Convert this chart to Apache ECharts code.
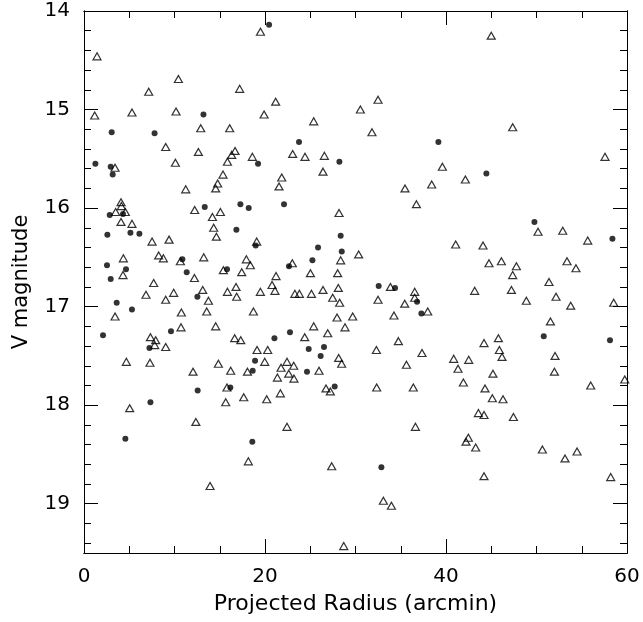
<!DOCTYPE html>
<html>
<head>
<meta charset="utf-8">
<script src="https://cdn.jsdelivr.net/npm/echarts@6/dist/echarts.min.js"></script>
<style>
  html, body { margin: 0; padding: 0; background: #fff; }
  #chart { width: 643px; height: 622px; }
</style>
</head>
<body>
<div id="chart"></div>
<script>
// Stars plotted as open triangles: [projected radius (arcmin), V magnitude]
const triangleStars = [
  [19.5,14.21],[1.44,14.46],[10.43,14.69],[7.15,14.82],[17.2,14.79],[1.18,15.06],[5.3,15.03],
  [10.17,15.02],[19.9,15.05],[12.9,15.19],[16.1,15.19],[9.03,15.38],
  [21.18,14.92],[32.49,14.9],[30.54,15.0],[25.38,15.12],[31.82,15.23],
  [45.0,14.25],[47.37,15.18],
  [12.64,15.43],[16.69,15.42],[16.32,15.46],[18.6,15.48],[3.43,15.59],[10.1,15.54],[15.85,15.53],
  [15.36,15.66],[14.77,15.75],[14.55,15.8],[11.24,15.81],[4.09,15.94],[4.13,15.98],[3.5,16.04],
  [4.57,16.04],[12.23,16.02],[15.07,16.04],[14.19,16.09],[4.09,16.14],[5.3,16.16],[14.33,16.2],
  [14.63,16.29],[7.52,16.34],[9.4,16.32],[19.08,16.34],[8.25,16.48],[8.77,16.51],[4.35,16.51],
  [10.65,16.54],[13.23,16.5],[17.94,16.52],[18.38,16.58],[4.31,16.68],[12.2,16.71],[15.4,16.63],
  [17.43,16.65],[7.7,16.76],
  [23.06,15.45],[24.42,15.48],[26.56,15.47],[26.41,15.63],[21.85,15.69],[21.55,15.78],[39.6,15.58],
  [35.47,15.8],[38.42,15.76],[36.73,15.96],[28.18,16.05],[30.35,16.47],[28.36,16.53],[23.02,16.56],
  [21.22,16.69],[25.02,16.66],[28.03,16.66],
  [57.57,15.48],[42.14,15.71],[50.17,16.24],[52.9,16.23],[55.66,16.33],[41.07,16.37],[44.09,16.38],
  [44.75,16.56],[46.12,16.54],[47.78,16.59],[53.37,16.54],[54.36,16.61],[47.37,16.68],[51.38,16.75],
  [13.12,16.83],[16.8,16.8],[15.85,16.85],[16.87,16.9],[19.49,16.85],[6.85,16.88],[9.91,16.86],
  [9.03,16.93],[13.75,16.94],[3.43,17.1],[10.76,17.06],[13.56,17.05],[18.72,17.05],[10.72,17.21],
  [14.55,17.2],[7.34,17.31],[7.92,17.34],[7.81,17.39],[9.03,17.41],[16.65,17.32],[17.32,17.34],
  [19.12,17.44],[20.3,17.44],[4.68,17.56],[7.29,17.57],[14.85,17.58],[19.97,17.56],[12.05,17.66],
  [16.21,17.65],[18.06,17.66],[15.8,17.82],[17.65,17.92],[15.66,17.97],[20.19,17.94],[5.05,18.03],
  [12.36,18.17],
  [20.78,16.78],[21.1,16.84],[23.3,16.87],[23.8,16.87],[25.13,16.87],[26.41,16.83],[28.1,16.81],
  [27.48,16.91],[28.25,16.96],[33.86,16.8],[32.49,16.93],[36.54,16.85],[36.54,16.91],[35.44,16.97],
  [37.98,17.05],[34.25,17.09],[27.96,17.11],[29.69,17.1],[25.38,17.2],[28.84,17.21],[26.93,17.27],
  [24.39,17.31],[34.74,17.35],[28.14,17.52],[28.47,17.58],[32.31,17.44],[37.35,17.47],[22.43,17.56],
  [21.77,17.62],[23.17,17.6],[35.63,17.59],[25.97,17.65],[21.37,17.72],[22.62,17.68],[23.2,17.73],
  [26.74,17.83],[27.22,17.86],[32.34,17.82],[36.39,17.82],[21.7,17.88],
  [43.17,16.84],[47.23,16.83],[48.88,16.94],[52.16,16.9],[53.78,16.99],[58.53,16.96],[51.54,17.15],
  [45.79,17.32],[44.2,17.37],[45.9,17.44],[46.19,17.51],[40.85,17.53],[42.51,17.54],[52.05,17.5],
  [41.33,17.63],[45.19,17.68],[51.98,17.66],[59.75,17.74],[41.92,17.77],[44.31,17.83],[55.99,17.8],
  [45.12,17.93],[46.3,17.94],[43.58,18.08],[44.2,18.1],[47.45,18.12],
  [18.16,18.57],[13.93,18.82],
  [22.43,18.22],[36.62,18.22],[27.37,18.62],[33.08,18.97],[33.97,19.02],[28.7,19.43],
  [42.47,18.33],[42.21,18.37],[43.28,18.43],[50.65,18.45],[54.48,18.47],[53.15,18.54],[44.2,18.72],
  [58.2,18.73]
];

// Stars plotted as filled circles: [projected radius (arcmin), V magnitude]
const dotStars = [
  [20.45,14.14],[13.2,15.05],[3.06,15.23],[7.8,15.24],
  [23.76,15.33],[39.16,15.33],
  [1.26,15.55],[2.95,15.58],[19.23,15.55],[3.17,15.66],[13.34,15.99],[2.84,16.07],[4.31,16.06],
  [17.28,15.96],[18.2,16.0],[16.84,16.22],[2.58,16.27],[5.13,16.25],[6.12,16.26],[18.97,16.38],
  [10.87,16.52],[2.54,16.58],[4.64,16.62],[11.35,16.65],[15.8,16.62],[2.95,16.72],
  [28.22,15.53],[22.1,15.96],[28.36,16.28],[25.86,16.4],[28.48,16.44],[25.24,16.53],[22.65,16.59],
  [44.46,15.65],[49.77,16.14],[58.39,16.31],
  [12.53,16.9],[3.61,16.96],[5.3,17.03],[2.1,17.29],[9.61,17.25],[7.23,17.42],[18.9,17.55],
  [18.64,17.65],[12.56,17.85],[16.17,17.82],[7.34,17.97],
  [32.56,16.79],[34.37,16.81],[36.8,16.95],[37.28,17.07],[22.76,17.26],[21.04,17.32],[24.83,17.43],
  [26.52,17.41],[26.15,17.5],[24.64,17.66],[27.7,17.81],
  [50.8,17.3],[58.12,17.34],
  [4.57,18.34],[18.6,18.37],
  [32.86,18.63]
];

// Axis ranges and tick spacing
const radiusRange = [0, 60];
const magRange = [14, 19.5];
const radiusMajorStep = 20, radiusMinorStep = 5;
const magMajorStep = 1, magMinorStep = 0.2;

const FONT = 'DejaVu Sans';
const INK = '#000';

function xAxisDef(position, step, tickLen, withLabels) {
  return {
    type: 'value', position: position,
    min: radiusRange[0], max: radiusRange[1], interval: step,
    axisLine: { show: true, onZero: false, lineStyle: { color: INK, width: 1 } },
    axisTick: { show: true, inside: true, length: tickLen, lineStyle: { color: INK, width: 1 } },
    axisLabel: withLabels
      ? { show: true, color: INK, fontFamily: FONT, fontSize: 20, margin: 14 }
      : { show: false },
    splitLine: { show: false }
  };
}

function yAxisDef(position, step, tickLen, withLabels) {
  return {
    type: 'value', position: position, inverse: true,
    min: magRange[0], max: magRange[1], interval: step,
    axisLine: { show: true, onZero: false, lineStyle: { color: INK, width: 1 } },
    axisTick: { show: true, inside: true, length: tickLen, lineStyle: { color: INK, width: 1 } },
    axisLabel: withLabels
      ? { show: true, color: INK, fontFamily: FONT, fontSize: 20, margin: 14,
          formatter: v => (Math.abs(v - Math.round(v)) < 1e-6 ? String(Math.round(v)) : '') }
      : { show: false },
    splitLine: { show: false }
  };
}

const xMain = xAxisDef('bottom', radiusMajorStep, 14, true);
xMain.name = 'Projected Radius (arcmin)';
xMain.nameLocation = 'middle';
xMain.nameGap = 40;
xMain.nameTextStyle = { color: INK, fontFamily: FONT, fontSize: 22 };

const yMain = yAxisDef('left', magMajorStep, 14, true);
yMain.name = 'V magnitude';
yMain.nameLocation = 'middle';
yMain.nameGap = 52;
yMain.nameTextStyle = { color: INK, fontFamily: FONT, fontSize: 21 };

const chart = echarts.init(document.getElementById('chart'), null, { renderer: 'canvas' });
chart.setOption({
  animation: false,
  backgroundColor: '#fff',
  grid: { left: 84, top: 11, right: 16, bottom: 69, containLabel: false },
  xAxis: [
    xMain,
    xAxisDef('bottom', radiusMinorStep, 7, false),
    xAxisDef('top', radiusMajorStep, 14, false),
    xAxisDef('top', radiusMinorStep, 7, false)
  ],
  yAxis: [
    yMain,
    yAxisDef('left', magMinorStep, 7, false),
    yAxisDef('right', magMajorStep, 14, false),
    yAxisDef('right', magMinorStep, 7, false)
  ],
  series: [
    {
      type: 'scatter', xAxisIndex: 0, yAxisIndex: 0,
      data: triangleStars,
      symbol: 'triangle', symbolSize: [8, 7],
      itemStyle: { color: 'rgba(255,255,255,0)', borderColor: INK, borderWidth: 1.2 },
      silent: true
    },
    {
      type: 'scatter', xAxisIndex: 0, yAxisIndex: 0,
      data: dotStars,
      symbol: 'circle', symbolSize: 6,
      itemStyle: { color: INK },
      silent: true
    }
  ]
});
</script>
</body>
</html>
